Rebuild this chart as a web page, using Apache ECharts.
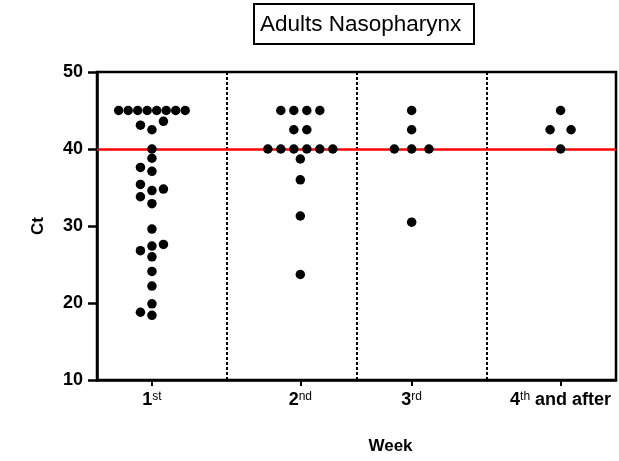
<!DOCTYPE html>
<html><head><meta charset="utf-8">
<script src="https://cdn.jsdelivr.net/npm/echarts@6/dist/echarts.min.js"></script>
<style>html,body{margin:0;padding:0;background:#fff}#c{width:619px;height:461px}</style>
</head><body><div id="c"></div>
<script>
// ---- data ----
const weekLabels = ['1st', '2nd', '3rd', '4th and after'];
const week1 = [45, 45, 45, 45, 45, 45, 45, 45, 43.6, 43.1, 42.5, 40.0, 38.8, 37.6, 37.1, 35.4, 34.8, 34.6, 33.8, 32.9, 29.6, 27.6, 27.4, 26.8, 26.0, 24.1, 22.2, 19.9, 18.8, 18.4];
const week2 = [45, 45, 45, 45, 42.5, 42.5, 40, 40, 40, 40, 40, 40, 38.7, 36.0, 31.3, 23.7];
const week3 = [45, 42.5, 40, 40, 40, 30.5];
const week4 = [45, 42.5, 42.5, 40];
const cutoff = 40;
const yTicks = [10, 20, 30, 40, 50];
const titleText = 'Adults Nasopharynx';
const xName = 'Week';
const yName = 'Ct';

// ---- layout (not data) ----
const weeks = [week1, week2, week3, week4];
const weekPos = [0.4235, 1.567, 2.425, 3.573];   // column centres in axis units
const rowGap = [9.5, 13, 17.3, 21];             // px spacing for tied values
const slotGap = 11.5;                           // px spacing for swarm offsets
const minDist = 9;                              // px collision distance
const FONT = "'Liberation Sans', Arial, sans-serif";

function richLabel(s) {
  const m = s.match(/^(\d+)(st|nd|rd|th)(.*)$/);
  if (!m) return '{b|' + s + '}';
  return '{b|' + m[1] + '}{s|' + m[2] + '}' + (m[3] ? '{b|' + m[3] + '}' : '');
}

const chart = echarts.init(document.getElementById('c'), null, {renderer: 'canvas'});

const sepLines = [];
for (let i = 1; i < weekLabels.length; i++) {
  sepLines.push({xAxis: i, lineStyle: {color: '#000', type: [3, 2], width: 2}});
}

const option = {
  animation: false,
  backgroundColor: '#fff',
  title: {
    text: titleText,
    left: 254, top: 4,
    borderColor: '#000', borderWidth: 2,
    padding: [8, 13, 6, 6],
    textStyle: {fontFamily: FONT, fontSize: 22.5, fontWeight: 'normal', color: '#000', lineHeight: 26}
  },
  grid: {left: 97, top: 72, right: 3, bottom: 81, show: true, borderColor: '#000', borderWidth: 2.5, backgroundColor: '#fff'},
  xAxis: {
    type: 'value', min: 0, max: weekLabels.length,
    axisLine: {show: true, onZero: false, lineStyle: {color: '#000', width: 2.5}},
    axisTick: {show: true, customValues: weekPos, length: 6, lineStyle: {color: '#000', width: 2}},
    axisLabel: {
      show: true, customValues: weekPos, margin: 11, color: '#000',
      formatter: function (v) {
        let idx = 0, best = 1e9;
        weekPos.forEach((p, i) => { if (Math.abs(p - v) < best) { best = Math.abs(p - v); idx = i; } });
        return richLabel(weekLabels[idx]);
      },
      rich: {
        b: {fontFamily: FONT, fontWeight: 'bold', fontSize: 18, color: '#000', lineHeight: 19},
        s: {fontFamily: FONT, fontWeight: 'normal', fontSize: 12, color: '#000', verticalAlign: 'top', lineHeight: 19}
      }
    },
    splitLine: {show: false},
    name: xName, nameLocation: 'middle', nameGap: 58,
    nameTextStyle: {fontFamily: FONT, fontWeight: 'bold', fontSize: 17, color: '#000', padding: [0, 0, 0, 68]}
  },
  yAxis: {
    type: 'value', min: yTicks[0], max: yTicks[yTicks.length - 1], interval: yTicks[1] - yTicks[0],
    axisLine: {show: true, lineStyle: {color: '#000', width: 2.5}},
    axisTick: {show: true, length: 9, lineStyle: {color: '#000', width: 2.5}},
    axisLabel: {color: '#000', fontFamily: FONT, fontWeight: 'bold', fontSize: 18, margin: 14},
    splitLine: {show: false},
    name: yName, nameLocation: 'middle', nameGap: 50,
    nameTextStyle: {fontFamily: FONT, fontWeight: 'bold', fontSize: 17, color: '#000'}
  },
  series: [
    {
      type: 'line', data: [], silent: true, z: 1,
      markLine: {
        silent: true, symbol: ['none', 'none'], label: {show: false}, animation: false,
        data: sepLines.concat([{yAxis: cutoff, lineStyle: {color: '#ff0000', type: 'solid', width: 2.5}}])
      }
    },
    {type: 'scatter', data: [], symbol: 'circle', symbolSize: 9.5, itemStyle: {color: '#000', opacity: 1}, z: 5}
  ]
};
chart.setOption(option);

function swarm(values, wi) {
  const toPx = (x, y) => chart.convertToPixel({gridIndex: 0}, [x, y]);
  const cx = toPx(weekPos[wi], yTicks[0])[0];
  const counts = new Map();
  values.forEach(v => counts.set(v, (counts.get(v) || 0) + 1));
  const placed = [];
  const out = [];
  counts.forEach((n, v) => {
    if (n > 1) {
      const py = toPx(0, v)[1];
      for (let i = 0; i < n; i++) {
        const px = cx + (i - (n - 1) / 2) * rowGap[wi];
        placed.push([px, py]);
        out.push([px, v]);
      }
    }
  });
  const singles = [...counts.keys()].filter(v => counts.get(v) === 1).sort((a, b) => a - b);
  singles.forEach(v => {
    const py = toPx(0, v)[1];
    for (const s of [0, -1, 1, -2, 2, -3, 3, -4, 4]) {
      const px = cx + s * slotGap;
      if (placed.every(p => Math.hypot(p[0] - px, p[1] - py) >= minDist)) {
        placed.push([px, py]);
        out.push([px, v]);
        break;
      }
    }
  });
  return out.map(p => [chart.convertFromPixel({gridIndex: 0}, [p[0], 0])[0], p[1]]);
}

let pts = [];
weeks.forEach((w, i) => { pts = pts.concat(swarm(w, i)); });
chart.setOption({series: [{}, {data: pts}]});
</script>
</body></html>
